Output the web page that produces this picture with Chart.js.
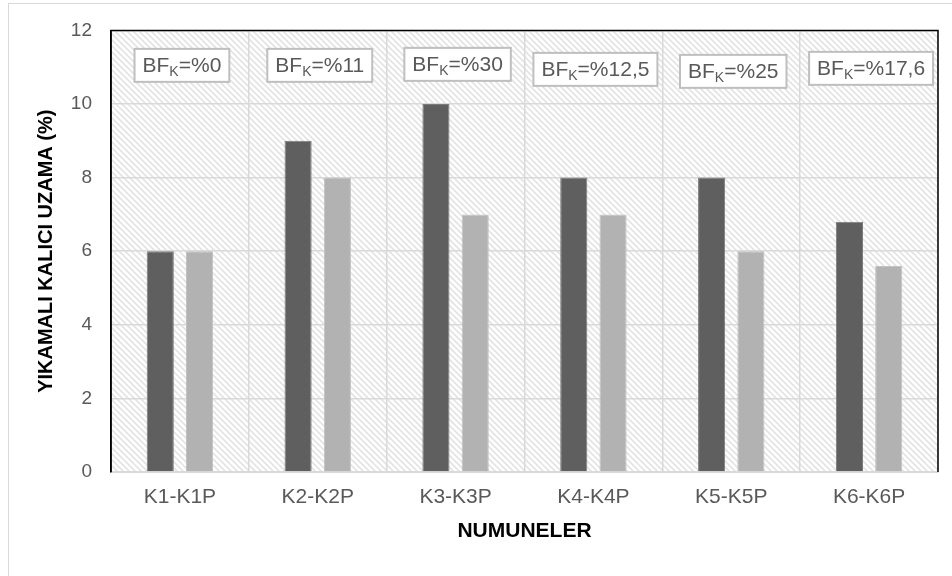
<!DOCTYPE html>
<html>
<head>
<meta charset="utf-8">
<script src="https://cdn.jsdelivr.net/npm/chart.js@4.4.1/dist/chart.umd.min.js"></script>
<style>
  html, body { margin: 0; padding: 0; background: #fff; }
  canvas { display: block; }
</style>
</head>
<body>
<canvas id="chart" width="952" height="576"></canvas>
<script>
// data
const categories = ['K1-K1P', 'K2-K2P', 'K3-K3P', 'K4-K4P', 'K5-K5P', 'K6-K6P'];
const seriesK = [6, 9, 10, 8, 8, 6.8];
const seriesKP = [6, 8, 7, 7, 6, 5.6];
const bfLabels = ['%0', '%11', '%30', '%12,5', '%25', '%17,6'];
const yTicks = [0, 2, 4, 6, 8, 10, 12];

const FONT = '"Liberation Sans", Arial, sans-serif';

function makeHatch() {
    const c = document.createElement('canvas');
    c.width = 6; c.height = 6;
    const g = c.getContext('2d');
    g.strokeStyle = '#e3e3e3';
    g.lineWidth = 1.6;
    g.beginPath();
    g.moveTo(0, 0); g.lineTo(6, 6);
    g.moveTo(-1, 5); g.lineTo(1, 7);
    g.moveTo(5, -1); g.lineTo(7, 1);
    g.stroke();
    return c;
}

// boxes in the original sit a few pixels apart vertically
const boxShift = [0, 0, -1, 4, 6, 3];

const framePlugin = {
    id: 'frame',
    beforeDraw(chart) {
        const { ctx, chartArea: a } = chart;
        ctx.save();
        // outer chart border
        ctx.strokeStyle = '#d9d9d9';
        ctx.lineWidth = 1;
        ctx.strokeRect(8.5, 3.5, 1200, 1200);
        // hatched plot background
        ctx.fillStyle = ctx.createPattern(makeHatch(), 'repeat');
        ctx.fillRect(a.left, a.top, a.right - a.left, a.bottom - a.top);
        ctx.restore();
    },
    afterDatasetsDraw(chart) {
        const { ctx, chartArea: a } = chart;
        ctx.save();
        ctx.strokeStyle = '#000';
        ctx.lineWidth = 1.5;
        ctx.beginPath();
        ctx.moveTo(a.left, a.bottom);
        ctx.lineTo(a.left, a.top);
        ctx.lineTo(a.right, a.top);
        ctx.lineTo(a.right, a.bottom);
        ctx.stroke();
        ctx.restore();
    },
    afterDraw(chart) {
        const { ctx } = chart;
        const x = chart.scales.x, y = chart.scales.y;
        ctx.save();
        bfLabels.forEach((lab, i) => {
            const cx = x.getPixelForValue(i) + 2;
            const cy = y.getPixelForValue(11.05) + boxShift[i];
            ctx.font = '21px ' + FONT;
            const wBF = ctx.measureText('BF').width;
            const wRest = ctx.measureText('=' + lab).width;
            ctx.font = '14px ' + FONT;
            const wK = ctx.measureText('K').width;
            const tw = wBF + wK + wRest;
            const bw = tw + 16, bh = 33;
            const bx = cx - bw / 2, by = cy - bh / 2;
            ctx.fillStyle = '#fff';
            ctx.fillRect(bx, by, bw, bh);
            ctx.strokeStyle = '#bfbfbf';
            ctx.lineWidth = 2;
            ctx.strokeRect(bx, by, bw, bh);
            ctx.fillStyle = '#595959';
            ctx.textBaseline = 'alphabetic';
            ctx.textAlign = 'left';
            const base = cy + 7;
            let tx = cx - tw / 2;
            ctx.font = '21px ' + FONT;
            ctx.fillText('BF', tx, base);
            tx += wBF;
            ctx.font = '14px ' + FONT;
            ctx.fillText('K', tx, base + 4);
            tx += wK;
            ctx.font = '21px ' + FONT;
            ctx.fillText('=' + lab, tx, base);
        });
        ctx.restore();
    }
};

new Chart(document.getElementById('chart'), {
    type: 'bar',
    data: {
        labels: categories,
        datasets: [
            {
                label: 'K',
                data: seriesK,
                backgroundColor: '#5f5f5f',
                borderColor: '#7a7a7a',
                borderWidth: 1,
                categoryPercentage: 0.57,
                barPercentage: 0.69
            },
            {
                label: 'KP',
                data: seriesKP,
                backgroundColor: '#b2b2b2',
                borderColor: '#c2c2c2',
                borderWidth: 1,
                categoryPercentage: 0.57,
                barPercentage: 0.69
            }
        ]
    },
    options: {
        responsive: false,
        animation: false,
        devicePixelRatio: 1,
        layout: { padding: { top: 29, right: 14, left: 0, bottom: 0 } },
        plugins: {
            legend: { display: false },
            tooltip: { enabled: false }
        },
        scales: {
            x: {
                grid: { color: '#d9d9d9', lineWidth: 1.5, drawTicks: false, offset: true },
                border: { display: true, color: '#d9d9d9', width: 2 },
                ticks: { color: '#595959', font: { family: FONT, size: 21 }, padding: 13 },
                title: {
                    display: true, text: 'NUMUNELER', color: '#000',
                    font: { family: FONT, size: 21, weight: 'bold' },
                    padding: { top: 0, bottom: 32 }
                },
                afterFit(scale) { scale.height = 104; }
            },
            y: {
                min: 0, max: 12,
                grid: { color: '#d9d9d9', lineWidth: 1.5, drawTicks: false },
                border: { display: true, color: '#000', width: 1.5 },
                afterBuildTicks(scale) { scale.ticks = yTicks.map(v => ({ value: v })); },
                ticks: { color: '#595959', font: { family: FONT, size: 19 }, padding: 19 },
                title: {
                    display: true, text: 'YIKAMALI KALICI UZAMA (%)', color: '#000',
                    font: { family: FONT, size: 20, weight: 'bold' },
                    padding: { top: 34, bottom: 0 }
                },
                afterFit(scale) { scale.width = 111; }
            }
        }
    },
    plugins: [framePlugin]
});
</script>
</body>
</html>
